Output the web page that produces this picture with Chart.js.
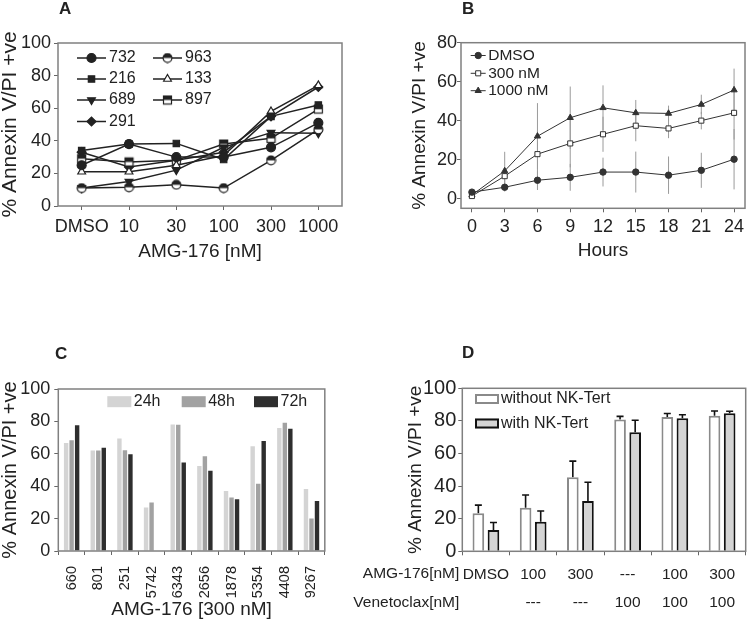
<!DOCTYPE html>
<html>
<head>
<meta charset="utf-8">
<script src="https://cdn.jsdelivr.net/npm/chart.js"></script>
<style>
  body { margin: 0; background: #fff; }
  #fig { position: relative; width: 750px; height: 627px; font-family: "Liberation Sans", Arial, sans-serif; }
  .tag { position: absolute; font-weight: bold; font-size: 17px; line-height: 17px; color: #222; }
  canvas { position: absolute; }
</style>
</head>
<body>
<div id="fig">
  <canvas id="chartA" width="375" height="300" style="left:0;top:0"></canvas>
  <canvas id="chartB" width="375" height="300" style="left:375px;top:0"></canvas>
  <canvas id="chartC" width="340" height="327" style="left:0;top:300px"></canvas>
  <canvas id="chartD" width="410" height="327" style="left:340px;top:300px"></canvas>
  <div class="tag" style="left:59px;top:0px">A</div>
  <div class="tag" style="left:462px;top:0px">B</div>
  <div class="tag" style="left:55px;top:345px">C</div>
  <div class="tag" style="left:462px;top:344px">D</div>
</div>
<script>
// ---- panel A : cell lines vs AMG-176 dose ----
const doseLabels = ['DMSO', '10', '30', '100', '300', '1000'];
const s732 = [25, 38, 30, 30, 36, 51];
const s963 = [11, 11.5, 13, 11, 28, 47];
const s216 = [34, 38, 38.4, 28.5, 55, 62];
const s133 = [21, 21, 25, 31, 58, 74];
const s689 = [11, 15, 22, 36, 45, 44.6];
const s897 = [29, 27, 28, 38, 41.5, 59.5];
const s291 = [33, 24, 28, 33, 55, 73];

// ---- panel B : time course ----
const hours = [0, 3, 6, 9, 12, 15, 18, 21, 24];
const dmsoB = [3.3, 5.8, 9.4, 10.9, 13.6, 13.6, 12, 14.5, 20.2];
const dmsoErr = [0.8, 2.2, 5, 6.9, 7.4, 10.5, 9.6, 9, 15.5];
const nm300 = [1.3, 11.5, 22.8, 28.3, 33, 37.4, 36, 40, 44];
const nm300Err = [0.5, 4, 12, 12.3, 9, 8, 5, 4.5, 13.7];
const nm1000 = [1.8, 14.2, 32, 41.5, 46.6, 44, 43.7, 48.3, 55.7];
const nm1000Err = [0.5, 9.8, 17, 16, 11.5, 6.6, 4, 5, 11];

// ---- panel C : samples at 300 nM ----
const samples = ['660', '801', '251', '5742', '6343', '2656', '1878', '5354', '4408', '9267'];
const h24 = [66.7, 62, 69.5, 26.8, 78.1, 52.4, 37, 64.6, 75.9, 38.2];
const h48 = [68.3, 62, 62.2, 29.9, 77.9, 58.5, 33.1, 41.5, 79.1, 20];
const h72 = [77.7, 63.8, 59.7, null, 54.6, 49.5, 31.9, 67.9, 75.5, 30.9];

// ---- panel D : NK-Tert co-culture ----
const amgRow = ['DMSO', '100', '300', '---', '100', '300'];
const venRow = ['', '---', '---', '100', '100', '100'];
const withoutNK = [23.3, 26.7, 45.5, 80.8, 82.4, 83.2];
const withoutNKErr = [5, 7.8, 9.8, 2, 2.1, 2.9];
const withNK = [13, 18.1, 30.9, 73, 81.6, 84.7];
const withNKErr = [4.7, 6.6, 11.5, 7.4, 2.2, 1.2];

const FONT = '"Liberation Sans", Arial, sans-serif';
const INK = '#222';
Chart.defaults.font.family = FONT;
Chart.defaults.color = INK;
Chart.defaults.animation = false;
Chart.defaults.plugins.legend.display = false;
Chart.defaults.plugins.tooltip.enabled = false;

// half filled markers (963 / 897)
function halfMarker(shape) {
  const c = document.createElement('canvas');
  c.width = 11; c.height = 11;
  const g = c.getContext('2d');
  g.strokeStyle = INK; g.lineWidth = 1.2;
  if (shape == 'circle') {
    g.fillStyle = '#fff';
    g.beginPath(); g.arc(5.5, 5.5, 4.4, 0, 2 * Math.PI); g.fill();
    g.fillStyle = INK;
    g.beginPath(); g.arc(5.5, 5.5, 4.4, Math.PI, 2 * Math.PI); g.fill();
    g.beginPath(); g.arc(5.5, 5.5, 4.4, 0, 2 * Math.PI); g.stroke();
  } else {
    g.fillStyle = '#fff'; g.fillRect(1.5, 1.5, 8, 8);
    g.fillStyle = INK; g.fillRect(1.5, 1.5, 8, 4);
    g.strokeRect(1.5, 1.5, 8, 8);
  }
  return c;
}

// box around the plot area
const framePlugin = {
  id: 'frame',
  afterDatasetsDraw(chart) {
    const a = chart.chartArea, ctx = chart.ctx;
    ctx.save();
    ctx.strokeStyle = '#808080';
    ctx.lineWidth = 1.5;
    ctx.strokeRect(a.left, a.top, a.right - a.left, a.bottom - a.top);
    ctx.restore();
  }
};

// error bars read from ds.err
const errorBarPlugin = {
  id: 'errorBars',
  beforeDatasetsDraw(chart) {
    const ctx = chart.ctx, ys = chart.scales.y;
    chart.data.datasets.forEach((ds, i) => {
      if (!ds.err) return;
      const st = ds.errStyle;
      const meta = chart.getDatasetMeta(i);
      ctx.save();
      ctx.strokeStyle = st.color;
      ctx.lineWidth = st.width;
      meta.data.forEach((el, j) => {
        const d = ds.data[j];
        const v = (d !== null && typeof d == 'object') ? d.y : d;
        const e = ds.err[j];
        if (v == null || e == null) return;
        const top = ys.getPixelForValue(v + e);
        const bot = st.upOnly ? ys.getPixelForValue(v) : ys.getPixelForValue(v - e);
        ctx.beginPath();
        ctx.moveTo(el.x, bot);
        ctx.lineTo(el.x, top);
        if (st.cap) { ctx.moveTo(el.x - st.cap, top); ctx.lineTo(el.x + st.cap, top); }
        ctx.stroke();
      });
      ctx.restore();
    });
  }
};

// legend drawn inside the plot box
function makeKey(cfg) {
  return {
    id: 'key',
    afterDraw(chart) {
      const ctx = chart.ctx;
      ctx.save();
      ctx.font = cfg.font;
      ctx.textBaseline = 'middle';
      cfg.items.forEach(it => {
        const ds = chart.data.datasets[it.i];
        let tx;
        if (cfg.kind == 'line') {
          ctx.strokeStyle = ds.borderColor;
          ctx.lineWidth = ds.borderWidth;
          ctx.beginPath(); ctx.moveTo(it.x, it.y); ctx.lineTo(it.x + cfg.len, it.y); ctx.stroke();
          ctx.fillStyle = ds.pointBackgroundColor;
          ctx.strokeStyle = ds.pointBorderColor;
          ctx.lineWidth = ds.pointBorderWidth;
          Chart.helpers.drawPoint(ctx, {
            pointStyle: ds.pointStyle, rotation: ds.pointRotation || 0,
            radius: ds.pointRadius, borderWidth: ds.pointBorderWidth
          }, it.x + cfg.len / 2, it.y);
          tx = it.x + cfg.len + cfg.gap;
        } else {
          ctx.fillStyle = ds.backgroundColor;
          const bw = ds.borderWidth || 0;
          ctx.fillRect(it.x, it.y - cfg.h / 2, cfg.w, cfg.h);
          if (bw) {
            ctx.strokeStyle = ds.borderColor;
            ctx.lineWidth = bw;
            ctx.strokeRect(it.x + bw / 2, it.y - cfg.h / 2 + bw / 2, cfg.w - bw, cfg.h - bw);
          }
          tx = it.x + cfg.w + cfg.gap;
        }
        ctx.fillStyle = INK;
        ctx.fillText(ds.label, tx, it.y);
      });
      ctx.restore();
    }
  };
}

function gridTicks(len) {
  return { display: true, drawOnChartArea: false, drawTicks: true, tickLength: len, color: '#666', lineWidth: 1 };
}

// ================= A =================
function lineDs(label, data, style, fill, extra) {
  return Object.assign({
    label: label, data: data,
    borderColor: INK, borderWidth: 1.5,
    pointStyle: style, pointRadius: 4.5, pointBackgroundColor: fill,
    pointBorderColor: INK, pointBorderWidth: 1.2, tension: 0, clip: false
  }, extra || {});
}

new Chart(document.getElementById('chartA'), {
  type: 'line',
  data: {
    labels: doseLabels,
    datasets: [
      lineDs('732', s732, 'circle', INK),
      lineDs('963', s963, halfMarker('circle'), INK),
      lineDs('216', s216, 'rect', INK),
      lineDs('133', s133, 'triangle', '#fff'),
      lineDs('689', s689, 'triangle', INK, { pointRotation: 180 }),
      lineDs('897', s897, halfMarker('rect'), INK),
      lineDs('291', s291, 'rectRot', INK)
    ]
  },
  options: {
    responsive: false,
    layout: { padding: { left: 0, top: 43, right: 33, bottom: 38.5 } },
    scales: {
      x: {
        offset: true,
        grid: gridTicks(4), border: { display: false },
        ticks: { font: { size: 18 }, padding: 6, maxRotation: 0, autoSkip: false },
        title: { display: true, text: 'AMG-176 [nM]', font: { size: 19, lineHeight: 1 }, padding: 0 },
        afterFit: s => { s.height = 55.5; }
      },
      y: {
        min: 0, max: 100,
        grid: gridTicks(4), border: { display: false },
        ticks: { stepSize: 20, font: { size: 18 }, padding: 3 },
        title: { display: true, text: '% Annexin V/PI +ve', font: { size: 21, lineHeight: 1 }, padding: 0 },
        afterFit: s => { s.width = 58; }
      }
    }
  },
  plugins: [framePlugin, makeKey({
    kind: 'line', font: '16px ' + FONT, len: 29, gap: 3,
    items: [
      { i: 0, x: 77, y: 58 }, { i: 2, x: 77, y: 79 }, { i: 4, x: 77, y: 100 }, { i: 6, x: 77, y: 121.5 },
      { i: 1, x: 153, y: 58 }, { i: 3, x: 153, y: 79 }, { i: 5, x: 153, y: 100 }
    ]
  })]
});

// ================= B =================
function xy(ys) { return hours.map((h, k) => ({ x: h, y: ys[k] })); }
const errB = { color: '#9a9a9a', width: 1, upOnly: false, cap: 0 };

new Chart(document.getElementById('chartB'), {
  type: 'line',
  data: {
    datasets: [
      { label: 'DMSO', data: xy(dmsoB), err: dmsoErr, errStyle: errB,
        borderColor: '#333', borderWidth: 1, pointStyle: 'circle', pointRadius: 3.2,
        pointBackgroundColor: '#333', pointBorderColor: '#333', pointBorderWidth: 1, clip: false },
      { label: '300 nM', data: xy(nm300), err: nm300Err, errStyle: errB,
        borderColor: '#333', borderWidth: 1, pointStyle: 'rect', pointRadius: 3.6,
        pointBackgroundColor: '#fff', pointBorderColor: '#333', pointBorderWidth: 1, clip: false },
      { label: '1000 nM', data: xy(nm1000), err: nm1000Err, errStyle: errB,
        borderColor: '#333', borderWidth: 1, pointStyle: 'triangle', pointRadius: 3.6,
        pointBackgroundColor: '#333', pointBorderColor: '#333', pointBorderWidth: 1, clip: false }
    ]
  },
  options: {
    responsive: false,
    layout: { padding: { left: 35.2, top: 42.7, right: 4.3, bottom: 39.8 } },
    scales: {
      x: {
        type: 'linear', min: -1, max: 25,
        afterBuildTicks: s => { s.ticks = hours.map(v => ({ value: v })); },
        grid: gridTicks(4), border: { display: false },
        ticks: { font: { size: 18 }, padding: 3.6, maxRotation: 0 },
        title: { display: true, text: 'Hours', font: { size: 19, lineHeight: 1 }, padding: 0 },
        afterFit: s => { s.height = 51.9; }
      },
      y: {
        min: -5, max: 80,
        afterBuildTicks: s => { s.ticks = [0, 20, 40, 60, 80].map(v => ({ value: v })); },
        grid: gridTicks(4), border: { display: false },
        ticks: { font: { size: 18 }, padding: 0 },
        title: { display: true, text: '% Annexin V/PI +ve', font: { size: 19, lineHeight: 1 }, padding: 0 },
        afterFit: s => { s.width = 50.8; }
      }
    }
  },
  plugins: [errorBarPlugin, framePlugin, makeKey({
    kind: 'line', font: '15.5px ' + FONT, len: 15, gap: 2.5,
    items: [{ i: 0, x: 95.7, y: 55.5 }, { i: 1, x: 95.7, y: 73.3 }, { i: 2, x: 95.7, y: 90.7 }]
  })]
});

// ================= C =================
new Chart(document.getElementById('chartC'), {
  type: 'bar',
  data: {
    labels: samples,
    datasets: [
      { label: '24h', data: h24, backgroundColor: '#d4d4d4' },
      { label: '48h', data: h48, backgroundColor: '#a2a2a2' },
      { label: '72h', data: h72, backgroundColor: '#2e2e2e' }
    ]
  },
  options: {
    responsive: false,
    categoryPercentage: 0.62,
    barPercentage: 0.8,
    layout: { padding: { left: 0, top: 89, right: 2.3, bottom: 7.5 } },
    scales: {
      x: {
        grid: gridTicks(4), border: { display: false },
        ticks: { font: { size: 14.5 }, padding: 11, minRotation: 90, maxRotation: 90, autoSkip: false },
        title: { display: true, text: 'AMG-176 [300 nM]', font: { size: 19, lineHeight: 1 }, padding: 0 },
        afterFit: s => { s.height = 68.5; }
      },
      y: {
        min: 0, max: 100,
        grid: gridTicks(4), border: { display: false },
        ticks: { stepSize: 20, font: { size: 18 }, padding: 4 },
        title: { display: true, text: '% Annexin V/PI +ve', font: { size: 20, lineHeight: 1 }, padding: 0 },
        afterFit: s => { s.width = 58.3; }
      }
    }
  },
  plugins: [framePlugin, makeKey({
    kind: 'box', font: '16px ' + FONT, w: 24, h: 11, gap: 2.5,
    items: [{ i: 0, x: 107.3, y: 101.7 }, { i: 1, x: 181.7, y: 101.7 }, { i: 2, x: 254, y: 101.7 }]
  })]
});

// ================= D =================
const rowNamePlugin = {
  id: 'rowNames',
  afterDraw(chart) {
    const ctx = chart.ctx, a = chart.chartArea;
    ctx.save();
    ctx.font = '15.5px ' + FONT;
    ctx.fillStyle = INK;
    ctx.textAlign = 'right';
    ctx.textBaseline = 'middle';
    ctx.fillText('AMG-176[nM]', a.left - 3, 274);
    ctx.fillText('Venetoclax[nM]', a.left - 3, 302.7);
    ctx.restore();
  }
};
const errD = { color: '#111', width: 1.6, upOnly: true, cap: 3.5 };

new Chart(document.getElementById('chartD'), {
  type: 'bar',
  data: {
    labels: amgRow.map((t, k) => [t, venRow[k]]),
    datasets: [
      { label: 'without NK-Tert', data: withoutNK, err: withoutNKErr, errStyle: errD,
        backgroundColor: '#fff', borderColor: '#8a8a8a', borderWidth: 2 },
      { label: 'with NK-Tert', data: withNK, err: withNKErr, errStyle: errD,
        backgroundColor: '#d4d4d4', borderColor: '#111', borderWidth: 2 }
    ]
  },
  options: {
    responsive: false,
    categoryPercentage: 0.64,
    barPercentage: 0.77,
    layout: { padding: { left: 66.3, top: 88.3, right: 4.3, bottom: 0 } },
    scales: {
      x: {
        grid: gridTicks(4), border: { display: false },
        ticks: { font: { size: 15.5, lineHeight: 1.85 }, padding: 4.6, maxRotation: 0, autoSkip: false },
        afterFit: s => { s.height = 75.7; }
      },
      y: {
        min: 0, max: 100,
        grid: gridTicks(4), border: { display: false },
        ticks: { stepSize: 20, font: { size: 20 }, padding: 2 },
        title: { display: true, text: '% Annexin V/PI +ve', font: { size: 19, lineHeight: 1 }, padding: 0 },
        afterFit: s => { s.width = 56; }
      }
    }
  },
  plugins: [errorBarPlugin, framePlugin, rowNamePlugin, makeKey({
    kind: 'box', font: '16px ' + FONT, w: 24, h: 10, gap: 2,
    items: [{ i: 0, x: 135, y: 99 }, { i: 1, x: 135, y: 123.5 }]
  })]
});
</script>
</body>
</html>
